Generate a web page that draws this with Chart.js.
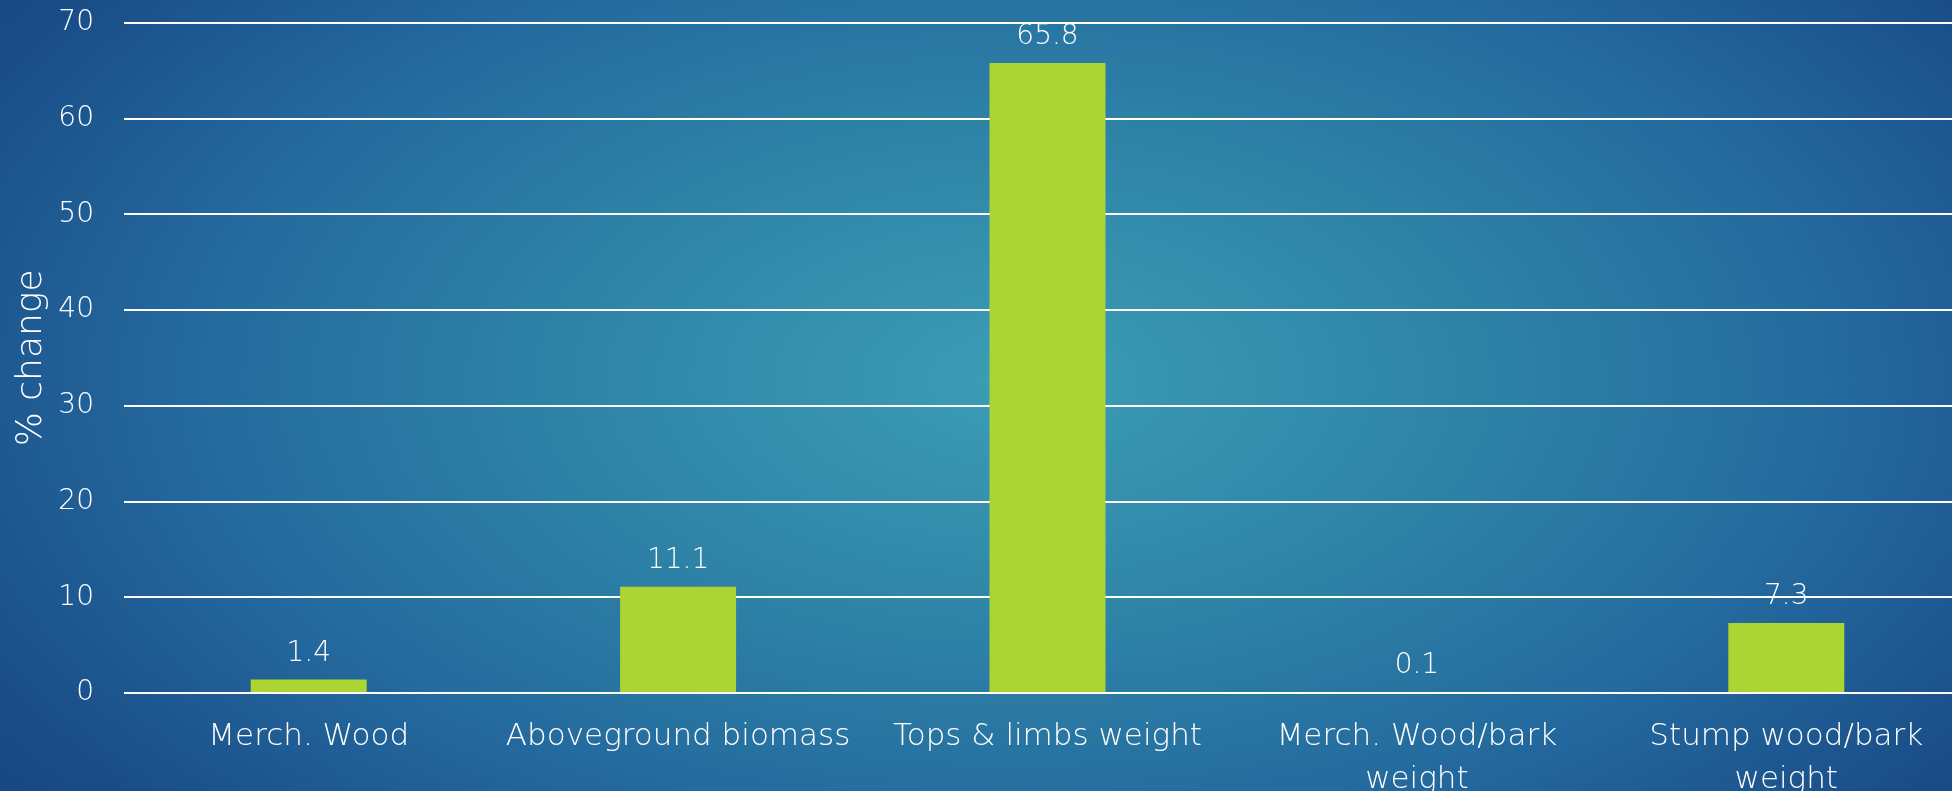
<!DOCTYPE html>
<html>
<head>
<meta charset="utf-8">
<script src="https://cdn.jsdelivr.net/npm/chart.js@4.4.1/dist/chart.umd.min.js"></script>
<style>
  html, body { margin: 0; padding: 0; }
  body {
    width: 1952px; height: 791px; overflow: hidden; position: relative;
    background: radial-gradient(ellipse 70% 95% at 52% 48%, #3c9db6 0%, #2f86a8 30%, #246a9e 60%, #1a4d88 85%, #16427b 100%);
  }
  #wrap { position: absolute; left: 0; top: -24px; }
</style>
</head>
<body>
<div id="wrap"><canvas id="chart" width="1971" height="824"></canvas></div>
<script>
// categories and values
var categories = [
    "Merch. Wood",
    "Aboveground biomass",
    "Tops & limbs weight",
    ["Merch. Wood/bark", "weight"],
    ["Stump wood/bark", "weight"]
];
var pctChange = [1.4, 11.1, 65.8, 0.1, 7.3];
var yTicks = [0, 10, 20, 30, 40, 50, 60, 70];

var fontName = "'DejaVu Sans', sans-serif";

// draw the numbers above each bar
var barLabels = {
    id: 'barLabels',
    afterDatasetsDraw: function(chart) {
        var ctx = chart.ctx;
        var meta = chart.getDatasetMeta(0);
        ctx.save();
        ctx.font = "200 28px " + fontName;
        ctx.fillStyle = "#ffffff";
        ctx.textAlign = "center";
        ctx.textBaseline = "alphabetic";
        for (var i = 0; i < meta.data.length; i++) {
            var bar = meta.data[i];
            ctx.fillText(pctChange[i].toFixed(1), bar.x, bar.y - 19);
        }
        ctx.restore();
    }
};

new Chart(document.getElementById("chart"), {
    type: "bar",
    data: {
        labels: categories,
        datasets: [{
            label: "% change",
            data: pctChange,
            backgroundColor: "#acd433",
            borderWidth: 0,
            categoryPercentage: 1,
            barPercentage: 0.314
        }]
    },
    options: {
        responsive: false,
        animation: false,
        layout: { padding: { top: 0, left: 0, right: 0, bottom: 0 } },
        plugins: {
            legend: { display: false },
            tooltip: { enabled: false }
        },
        scales: {
            x: {
                grid: { display: false },
                border: { display: false },
                ticks: {
                    color: "#ffffff",
                    padding: 14,
                    maxRotation: 0,
                    autoSkip: false,
                    font: { family: fontName, size: 31, weight: 200, lineHeight: 1.4 }
                },
                afterFit: function(scale) { scale.height = 107; }
            },
            y: {
                min: 0,
                max: 70,
                afterBuildTicks: function(scale) {
                    scale.ticks = yTicks.map(function(v) { return { value: v }; });
                },
                grid: { color: "#ffffff", lineWidth: 2, drawTicks: false },
                border: { display: false },
                ticks: {
                    color: "#ffffff",
                    padding: 30,
                    font: { family: fontName, size: 28, weight: 200 }
                },
                title: {
                    display: true,
                    text: "% change",
                    color: "#ffffff",
                    padding: { top: 10, bottom: 0 },
                    font: { family: fontName, size: 36, weight: 200 }
                },
                afterFit: function(scale) { scale.width = 124; }
            }
        }
    },
    plugins: [barLabels]
});
</script>
</body>
</html>
